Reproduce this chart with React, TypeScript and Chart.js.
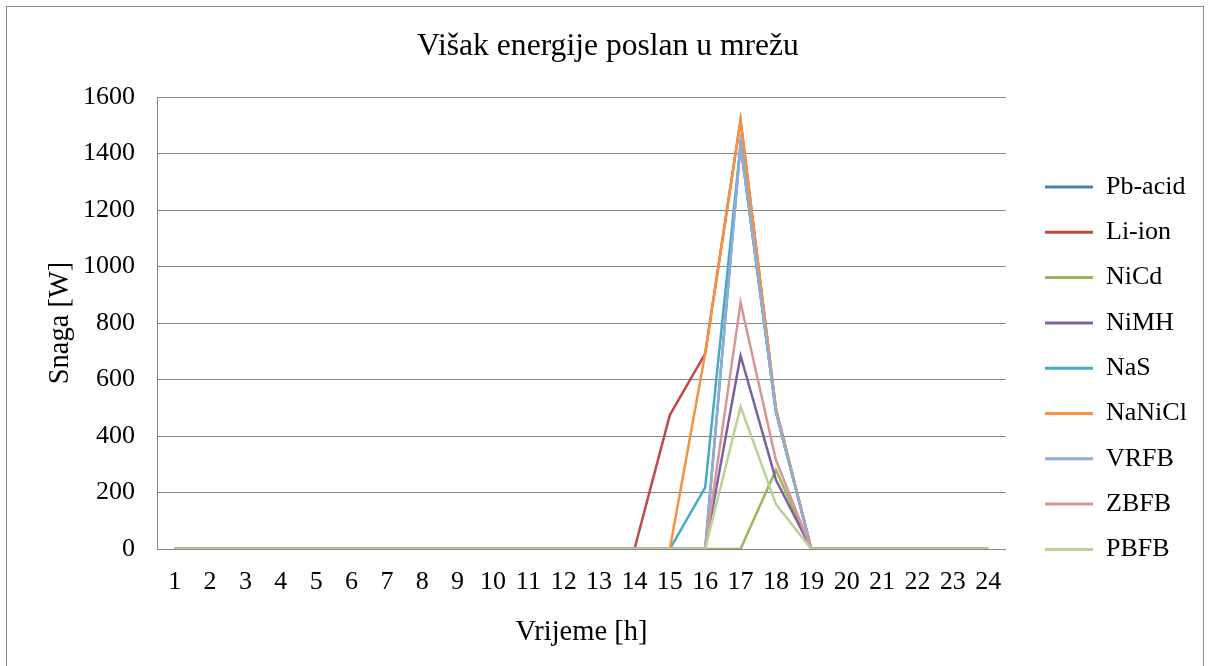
import React, { useEffect, useRef } from "react";
import { Chart, registerables } from "chart.js";

Chart.register(...registerables);

const hours = ["1","2","3","4","5","6","7","8","9","10","11","12","13","14","15","16","17","18","19","20","21","22","23","24"];
const seriesNames = ["Pb-acid","Li-ion","NiCd","NiMH","NaS","NaNiCl","VRFB","ZBFB","PBFB"];
const seriesColors = ["#4A7EBB","#BE4B48","#98B954","#7D60A0","#46AAC5","#F69240","#8EADD8","#D99694","#B9D296"];

const pbAcid = [0,0,0,0,0,0,0,0,0,0,0,0,0,0,0,0,1433,486,0,0,0,0,0,0];
const liIon  = [0,0,0,0,0,0,0,0,0,0,0,0,0,0,474,692,1518,495,0,0,0,0,0,0];
const niCd   = [0,0,0,0,0,0,0,0,0,0,0,0,0,0,0,0,0,280,0,0,0,0,0,0];
const niMH   = [0,0,0,0,0,0,0,0,0,0,0,0,0,0,0,0,684,245,0,0,0,0,0,0];
const naS    = [0,0,0,0,0,0,0,0,0,0,0,0,0,0,0,218,1433,486,0,0,0,0,0,0];
const naNiCl = [0,0,0,0,0,0,0,0,0,0,0,0,0,0,0,692,1518,495,0,0,0,0,0,0];
const vrfb   = [0,0,0,0,0,0,0,0,0,0,0,0,0,0,0,0,1433,486,0,0,0,0,0,0];
const zbfb   = [0,0,0,0,0,0,0,0,0,0,0,0,0,0,0,0,872,315,0,0,0,0,0,0];
const pbfb   = [0,0,0,0,0,0,0,0,0,0,0,0,0,0,0,0,504,159,0,0,0,0,0,0];
const seriesValues = [pbAcid, liIon, niCd, niMH, naS, naNiCl, vrfb, zbfb, pbfb];

const yTicks = [0,200,400,600,800,1000,1200,1400,1600];

const FONT = "'Liberation Serif', 'Times New Roman', serif";

const placeBoxes = {
  id: "placeBoxes",
  afterLayout(chart: any) {
    const l = chart.legend;
    if (l && l.columnSizes && l.columnSizes.length) {
      const pad = l.options.labels.padding;
      const curX = l.left + pad;
      const dx = 1038 - curX;
      l.left += dx;
      l.right += dx;
      const curY = (l.top + pad + l.bottom - l.columnSizes[0].height) / 2;
      const dy = 167 - curY;
      l.top += dy;
      l.bottom += dy;
    }
    const t = chart.titleBlock;
    if (t) {
      const c = (t.left + t.right) / 2;
      t.right += 2 * (601 - c);
    }
  },
};

export default function App() {
  const ref = useRef<HTMLCanvasElement>(null);
  useEffect(() => {
    document.body.style.margin = "0";
    document.body.style.overflow = "hidden";
    const ctx = ref.current!.getContext("2d")!;
    const n = seriesNames.length;
    const chart = new Chart(ctx, {
      type: "line",
      data: {
        labels: hours,
        datasets: seriesNames.map((name, i) => ({
          label: name,
          data: seriesValues[i],
          borderColor: seriesColors[i],
          backgroundColor: seriesColors[i],
          borderWidth: 2.5,
          pointRadius: 0,
          pointHoverRadius: 0,
          tension: 0,
          fill: false,
          order: n - 1 - i,
        })),
      },
      options: {
        responsive: false,
        animation: false,
        events: [],
        layout: { padding: { left: 0, right: 26, top: 0, bottom: 0 } },
        plugins: {
          tooltip: { enabled: false },
          title: {
            display: true,
            text: "Višak energije poslan u mrežu",
            color: "#000",
            font: { family: FONT, size: 31.6, weight: "normal" },
            padding: { top: 21, bottom: 31.1 },
          },
          legend: {
            position: "right",
            labels: {
              color: "#000",
              font: { family: FONT, size: 26 },
              boxWidth: 48,
              boxHeight: 3,
              padding: 19.3,
              sort: (a: any, b: any) => a.datasetIndex - b.datasetIndex,
              generateLabels: (c: any) => {
                const items = Chart.defaults.plugins.legend.labels.generateLabels(c);
                return items.map((it: any) => ({ ...it, fillStyle: it.strokeStyle, lineWidth: 0 }));
              },
            },
          },
        },
        scales: {
          x: {
            offset: true,
            grid: { display: false, drawTicks: false },
            border: { display: true, color: "#868686", width: 1 },
            ticks: {
              color: "#000",
              font: { family: FONT, size: 26 },
              padding: 18,
              maxRotation: 0,
              autoSkip: false,
            },
            title: {
              display: true,
              text: "Vrijeme [h]",
              color: "#000",
              font: { family: FONT, size: 28.5 },
              padding: { top: -1, bottom: 1.6 },
            },
          },
          y: {
            min: 0,
            max: 1600,
            afterBuildTicks: (axis: any) => {
              axis.ticks = yTicks.map((v) => ({ value: v }));
            },
            grid: { color: "#868686", lineWidth: 1, drawTicks: false },
            border: { display: true, color: "#868686", width: 1 },
            ticks: {
              color: "#000",
              font: { family: FONT, size: 26 },
              padding: 22,
              callback: (v: any) => String(v),
            },
            title: {
              display: true,
              text: "Snaga [W]",
              color: "#000",
              font: { family: FONT, size: 28.5 },
              padding: { top: 36, bottom: -16.2 },
            },
          },
        },
      },
      plugins: [placeBoxes],
    });
    return () => chart.destroy();
  }, []);

  return (
    <div
      style={{
        position: "absolute",
        left: 6,
        top: 6,
        width: 1198,
        height: 660,
        boxSizing: "border-box",
        borderTop: "1px solid #8c8c8c",
        borderLeft: "1px solid #8c8c8c",
        borderRight: "1px solid #8c8c8c",
        background: "#fff",
      }}
    >
      <canvas ref={ref} width={1196} height={644} style={{ display: "block", width: 1196, height: 644 }} />
    </div>
  );
}
